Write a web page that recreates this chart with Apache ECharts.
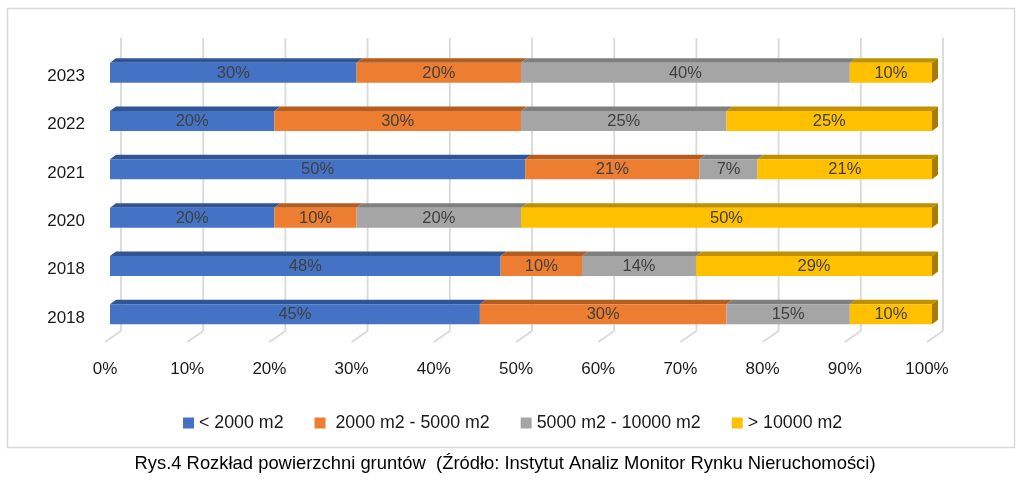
<!DOCTYPE html>
<html>
<head>
<meta charset="utf-8">
<script src="https://cdn.jsdelivr.net/npm/echarts@6/dist/echarts.min.js"></script>
<style>
  html, body { margin: 0; padding: 0; background: #fff; }
  #chart { width: 1024px; height: 491px; }
</style>
</head>
<body>
<div id="chart"></div>
<script>
// Rozkład powierzchni gruntów - 100% skumulowany wykres słupkowy
var years = ['2018', '2018', '2020', '2021', '2022', '2023'];
var seriesNames = ['< 2000 m2', ' 2000 m2 - 5000 m2', '5000 m2 - 10000 m2', '> 10000 m2'];
var small  = [45, 48, 20, 50, 20, 30];   // < 2000 m2
var mid    = [30, 10, 10, 21, 30, 20];   // 2000 - 5000 m2
var large  = [15, 14, 20, 7, 25, 40];    // 5000 - 10000 m2
var huge   = [10, 29, 50, 21, 25, 10];   // > 10000 m2
var ticks  = [0, 10, 20, 30, 40, 50, 60, 70, 80, 90, 100];

var values = [small, mid, large, huge];
var colors = ['#4472C4', '#ED7D31', '#A5A5A5', '#FFC000'];
var topColors = ['#2F5597', '#B35D22', '#7F7F7F', '#BF9000'];
var sideColor = '#A67D00';
var FONT = 'Liberation Sans';

// pozycje segmentów (jak w wykresie 100%)
function segments(si) {
  var out = [];
  for (var c = 0; c < years.length; c++) {
    var total = 0, before = 0;
    for (var k = 0; k < values.length; k++) {
      total += values[k][c];
      if (k < si) before += values[k][c];
    }
    var start = before / total * 100;
    var end = (before + values[si][c]) / total * 100;
    out.push([c, start, end, values[si][c]]);
  }
  return out;
}

function renderSeg(si) {
  return function (params, api) {
    var cat = api.value(0);
    var p0 = api.coord([api.value(1), cat]);
    var p1 = api.coord([api.value(2), cat]);
    var h = 20, fx = 5, fy = -3.5, dx = 6, dy = -4.5;
    var left = p0[0] + fx, right = p1[0] + fx;
    var top = p0[1] + fy - h / 2, bottom = top + h;
    var kids = [
      { type: 'polygon', shape: { points: [[left, top], [right, top], [right + dx, top + dy], [left + dx, top + dy]] },
        style: { fill: topColors[si] } },
      { type: 'rect', shape: { x: left, y: top, width: right - left, height: h },
        style: { fill: colors[si] } }
    ];
    if (si === values.length - 1) {
      kids.push({ type: 'polygon', shape: { points: [[right, top], [right + dx, top + dy], [right + dx, bottom + dy], [right, bottom]] },
        style: { fill: sideColor } });
    }
    kids.push({ type: 'text', style: {
      text: api.value(3) + '%', x: (left + right) / 2, y: (top + bottom) / 2 + 0.5,
      align: 'center', verticalAlign: 'middle', fill: '#404040', fontSize: 16.5, fontFamily: FONT } });
    return { type: 'group', children: kids };
  };
}

function renderGrid(params, api) {
  var cs = params.coordSys;
  var x = api.coord([api.value(0), 0])[0];
  var floorY = cs.y + cs.height;
  var style = { stroke: '#D9D9D9', lineWidth: 1.8 };
  return { type: 'group', children: [
    { type: 'line', shape: { x1: x, y1: floorY, x2: x + 16, y2: floorY - 11 }, style: style },
    { type: 'line', shape: { x1: x + 16, y1: floorY - 11, x2: x + 16, y2: cs.y - 14 }, style: style }
  ] };
}

var series = [{
  type: 'custom',
  name: 'grid',
  silent: true,
  clip: false,
  renderItem: renderGrid,
  data: ticks.map(function (t) { return [t]; }),
  encode: { x: 0 }
}];
for (var s = 0; s < values.length; s++) {
  series.push({
    type: 'custom',
    name: seriesNames[s],
    clip: false,
    itemStyle: { color: colors[s] },
    renderItem: renderSeg(s),
    data: segments(s),
    encode: { y: 0, x: [1, 2] }
  });
}

var myChart = echarts.init(document.getElementById('chart'));
myChart.setOption({
  animation: false,
  textStyle: { fontFamily: FONT },
  grid: { left: 105, right: 97, top: 52, bottom: 149 },
  xAxis: {
    type: 'value', min: 0, max: 100, interval: 10,
    axisLine: { show: false }, axisTick: { show: false }, splitLine: { show: false },
    axisLabel: { formatter: '{value}%', color: '#1A1A1A', fontSize: 17, margin: 19, fontFamily: FONT }
  },
  yAxis: {
    type: 'category', data: years,
    axisLine: { show: false }, axisTick: { show: false },
    axisLabel: { color: '#1A1A1A', fontSize: 17, margin: 20, fontFamily: FONT }
  },
  legend: {
    data: seriesNames,
    left: 178, top: 409,
    icon: 'rect', itemWidth: 11, itemHeight: 11, itemGap: 31,
    textStyle: { color: '#1A1A1A', fontSize: 17.8, fontFamily: FONT }
  },
  graphic: [
    { type: 'rect', silent: true, z: -10,
      shape: { x: 7.5, y: 8.5, width: 1007, height: 439 },
      style: { fill: 'none', stroke: '#D9D9D9', lineWidth: 1.5 } },
    { type: 'text', silent: true,
      style: { text: 'Rys.4 Rozkład powierzchni gruntów  (Źródło: Instytut Analiz Monitor Rynku Nieruchomości)',
        x: 505, y: 464, align: 'center', verticalAlign: 'middle', fill: '#000', fontSize: 18.4, fontFamily: FONT } }
  ],
  series: series
});
</script>
</body>
</html>
